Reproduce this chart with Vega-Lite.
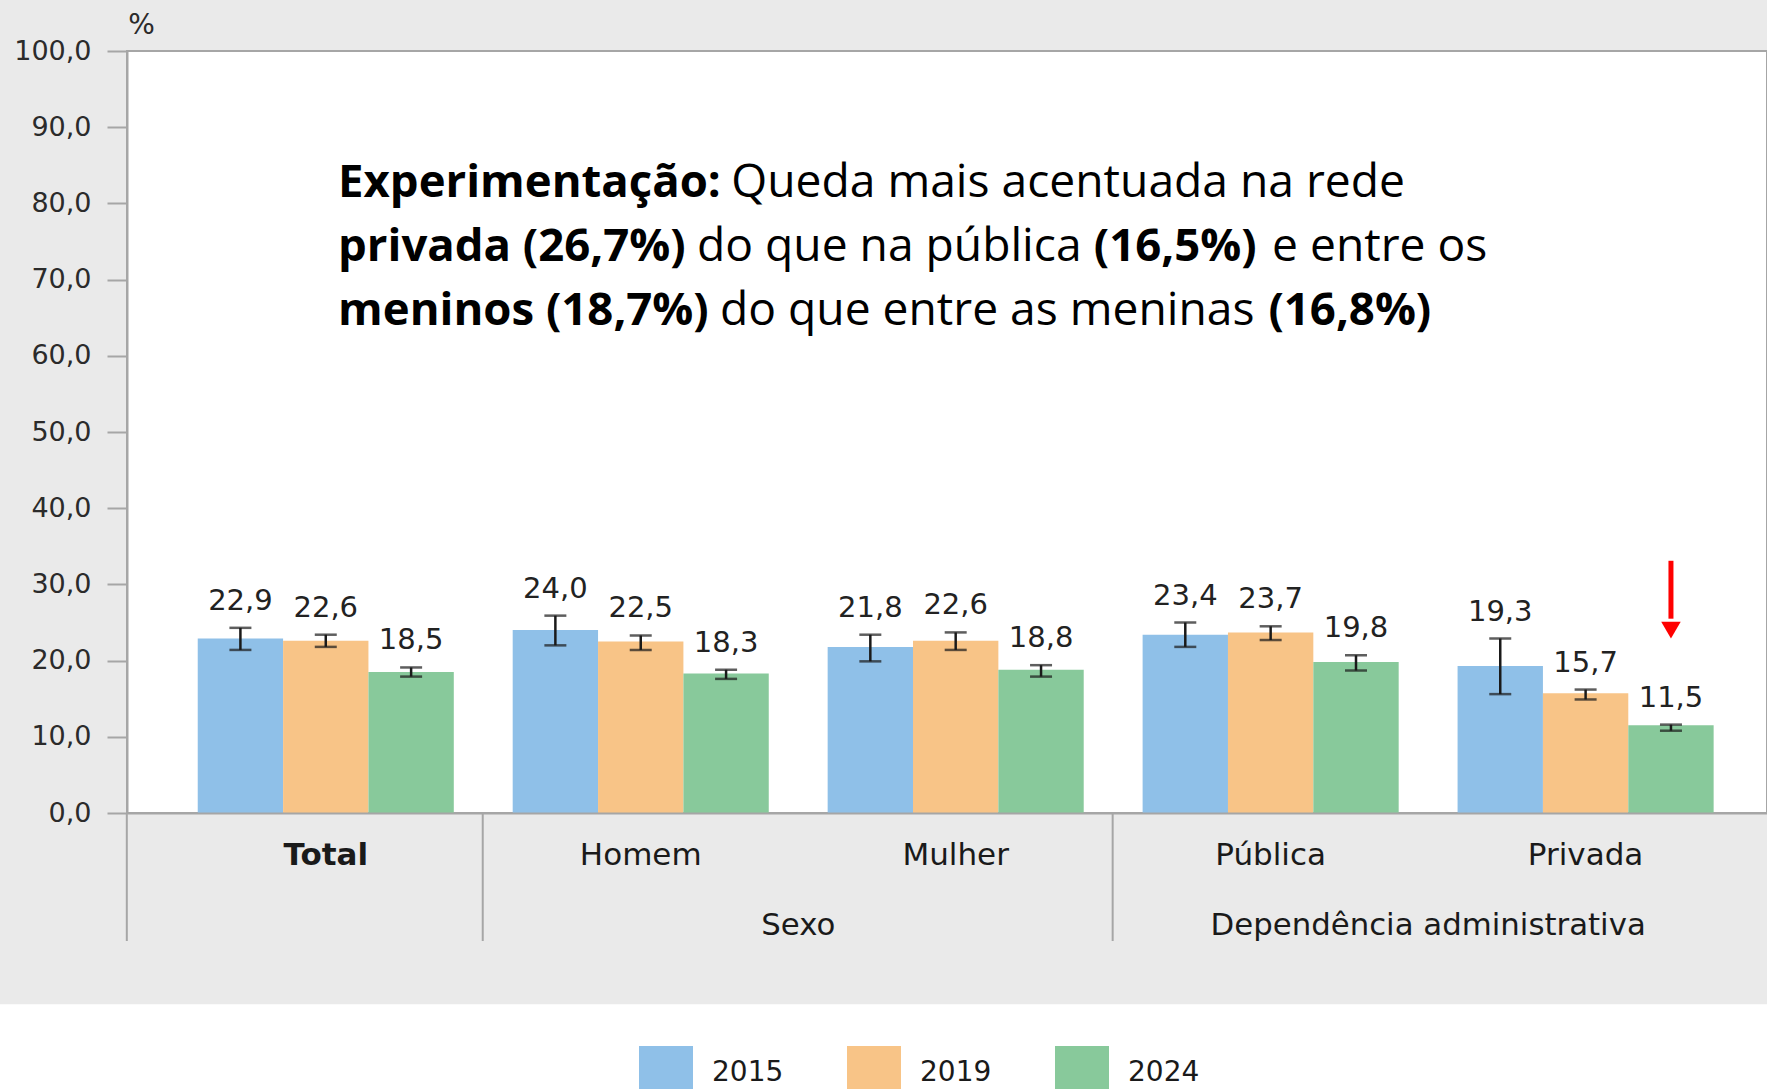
{
  "$schema": "https://vega.github.io/schema/vega-lite/v6.json",
  "width": 1640,
  "height": 762,
  "autosize": {"type": "none"},
  "padding": {"left": 127, "top": 51, "right": 0, "bottom": 276},
  "datasets": {
    "barras": [
      {"categoria": "Total", "ano": "2015", "valor": 22.9, "li": 21.4, "ls": 24.3},
      {"categoria": "Total", "ano": "2019", "valor": 22.6, "li": 21.8, "ls": 23.4},
      {"categoria": "Total", "ano": "2024", "valor": 18.5, "li": 17.9, "ls": 19.1},
      {"categoria": "Homem", "ano": "2015", "valor": 24.0, "li": 22.0, "ls": 25.9},
      {"categoria": "Homem", "ano": "2019", "valor": 22.5, "li": 21.4, "ls": 23.3},
      {"categoria": "Homem", "ano": "2024", "valor": 18.3, "li": 17.6, "ls": 18.8},
      {"categoria": "Mulher", "ano": "2015", "valor": 21.8, "li": 19.9, "ls": 23.4},
      {"categoria": "Mulher", "ano": "2019", "valor": 22.6, "li": 21.4, "ls": 23.7},
      {"categoria": "Mulher", "ano": "2024", "valor": 18.8, "li": 17.9, "ls": 19.4},
      {"categoria": "Pública", "ano": "2015", "valor": 23.4, "li": 21.8, "ls": 25.0},
      {"categoria": "Pública", "ano": "2019", "valor": 23.7, "li": 22.7, "ls": 24.5},
      {"categoria": "Pública", "ano": "2024", "valor": 19.8, "li": 18.7, "ls": 20.7},
      {"categoria": "Privada", "ano": "2015", "valor": 19.3, "li": 15.6, "ls": 22.9},
      {"categoria": "Privada", "ano": "2019", "valor": 15.7, "li": 14.9, "ls": 16.2},
      {"categoria": "Privada", "ano": "2024", "valor": 11.5, "li": 10.8, "ls": 11.6}
    ],
    "grupos": [
      {"grupo": "Sexo", "ancora": "Homem"},
      {"grupo": "Dependência administrativa", "ancora": "Pública"}
    ],
    "separadores": [
      {"ancora": "Homem"},
      {"ancora": "Pública"}
    ],
    "destaque": [
      {"categoria": "Privada", "ano": "2024"}
    ],
    "anotacao": [
      {"linha": 1, "trecho": "Experimentação:", "negrito": "sim", "inicio": 12.87, "nivel": 80.9},
      {"linha": 1, "trecho": "Queda mais acentuada na rede", "negrito": "nao", "inicio": 36.85, "nivel": 80.9},
      {"linha": 2, "trecho": "privada (26,7%)", "negrito": "sim", "inicio": 12.87, "nivel": 72.4},
      {"linha": 2, "trecho": "do que na pública", "negrito": "nao", "inicio": 34.76, "nivel": 72.4},
      {"linha": 2, "trecho": "(16,5%)", "negrito": "sim", "inicio": 58.95, "nivel": 72.4},
      {"linha": 2, "trecho": "e entre os", "negrito": "nao", "inicio": 69.82, "nivel": 72.4},
      {"linha": 3, "trecho": "meninos (18,7%)", "negrito": "sim", "inicio": 12.87, "nivel": 64.1},
      {"linha": 3, "trecho": "do que entre as meninas", "negrito": "nao", "inicio": 36.16, "nivel": 64.1},
      {"linha": 3, "trecho": "(16,8%)", "negrito": "sim", "inicio": 69.6, "nivel": 64.1}
    ]
  },
  "layer": [
    {
      "layer": [
        {
          "data": {"values": [{"faixa": "legenda"}]},
          "mark": {"type": "rect", "color": "white"},
          "encoding": {
            "x": {"datum": "Total", "type": "nominal", "bandPosition": -1, "scale": {"domain": ["Total", "Homem", "Mulher", "Pública", "Privada"], "paddingInner": 0.187, "paddingOuter": 0.197, "align": 0.57}},
            "x2": {"datum": "Privada", "bandPosition": 2},
            "y": {"datum": -25.1, "type": "quantitative", "scale": {"domain": [0, 100], "nice": false}},
            "y2": {"datum": -45}
          }
        },
        {
          "data": {"name": "barras"},
          "mark": {"type": "bar"},
          "encoding": {
            "x": {
              "field": "categoria", "type": "nominal",
              "scale": {"domain": ["Total", "Homem", "Mulher", "Pública", "Privada"], "paddingInner": 0.187, "paddingOuter": 0.197, "align": 0.57},
              "axis": {
                "title": null, "ticks": false, "bandPosition": 0.5, "labelAngle": 0, "labelAlign": "center", "labelPadding": 42, "labelBaseline": "middle",
                "labelFontSize": 31, "labelColor": "#1a1a1a",
                "labelFontWeight": {"condition": {"test": "datum.value === 'Total'", "value": "bold"}, "value": "normal"},
                "domainColor": "#a6a6a6", "domainWidth": 2, "grid": false
              }
            },
            "xOffset": {"field": "ano", "type": "nominal", "scale": {"domain": ["2015", "2019", "2024"]}},
            "y": {
              "field": "valor", "type": "quantitative",
              "scale": {"domain": [0, 100], "nice": false},
              "axis": {
                "values": [0, 10, 20, 30, 40, 50, 60, 70, 80, 90, 100], "format": ".1f",
                "grid": false, "labelFontSize": 27, "labelColor": "#2b2b2b", "labelPadding": 16,
                "tickSize": 20, "tickColor": "#a6a6a6", "tickWidth": 2,
                "domainColor": "#a6a6a6", "domainWidth": 2,
                "title": "%", "titleAngle": 0, "titleX": 14, "titleY": -26, "titleAlign": "center", "titleBaseline": "middle",
                "titleFontSize": 28, "titleFontWeight": "normal", "titleColor": "#2b2b2b"
              }
            },
            "color": {
              "field": "ano", "type": "nominal",
              "scale": {"domain": ["2015", "2019", "2024"], "range": ["#8fc0e8", "#f8c487", "#88c99b"]},
              "legend": {
                "orient": "none", "legendX": 512, "legendY": 995, "direction": "horizontal", "title": null,
                "symbolType": "square", "symbolSize": 2916, "symbolStrokeWidth": 0, "symbolOpacity": 1,
                "labelFontSize": 28, "labelOffset": 19, "columnPadding": 63, "padding": 0, "labelColor": "#1a1a1a"
              }
            }
          }
        },
        {
          "data": {"name": "barras"},
          "mark": {"type": "rule", "color": "#1a1a1a", "strokeWidth": 2.5},
          "encoding": {
            "x": {"field": "categoria", "type": "nominal"},
            "xOffset": {"field": "ano", "type": "nominal"},
            "y": {"field": "li", "type": "quantitative", "scale": {"domain": [0, 100], "nice": false}},
            "y2": {"field": "ls"}
          }
        },
        {
          "data": {"name": "barras"},
          "mark": {"type": "tick", "color": "#1a1a1a", "size": 22, "thickness": 2.5, "orient": "horizontal"},
          "encoding": {
            "x": {"field": "categoria", "type": "nominal"},
            "xOffset": {"field": "ano", "type": "nominal"},
            "y": {"field": "li", "type": "quantitative", "scale": {"domain": [0, 100], "nice": false}}
          }
        },
        {
          "data": {"name": "barras"},
          "mark": {"type": "tick", "color": "#1a1a1a", "size": 22, "thickness": 2.5, "orient": "horizontal"},
          "encoding": {
            "x": {"field": "categoria", "type": "nominal"},
            "xOffset": {"field": "ano", "type": "nominal"},
            "y": {"field": "ls", "type": "quantitative", "scale": {"domain": [0, 100], "nice": false}}
          }
        },
        {
          "data": {"name": "barras"},
          "mark": {"type": "text", "fontSize": 29, "color": "#222222", "baseline": "alphabetic", "dy": -18},
          "encoding": {
            "x": {"field": "categoria", "type": "nominal"},
            "xOffset": {"field": "ano", "type": "nominal"},
            "y": {"field": "ls", "type": "quantitative", "scale": {"domain": [0, 100], "nice": false}},
            "text": {"field": "valor", "type": "quantitative", "format": ".1f"}
          }
        },
        {
          "data": {"values": [{"limite": "esquerdo"}]},
          "mark": {"type": "rule", "color": "#a6a6a6", "strokeWidth": 2},
          "encoding": {
            "x": {"datum": "Total", "type": "nominal", "bandPosition": -0.277},
            "y": {"datum": 0, "type": "quantitative", "scale": {"domain": [0, 100], "nice": false}},
            "y2": {"datum": -16.8}
          }
        },
        {
          "data": {"name": "separadores"},
          "mark": {"type": "rule", "color": "#a6a6a6", "strokeWidth": 2},
          "encoding": {
            "x": {"field": "ancora", "type": "nominal", "bandPosition": -0.117},
            "y": {"datum": 0, "type": "quantitative", "scale": {"domain": [0, 100], "nice": false}},
            "y2": {"datum": -16.8}
          }
        },
        {
          "data": {"name": "grupos"},
          "mark": {"type": "text", "fontSize": 30.8, "color": "#1a1a1a", "baseline": "middle", "align": "center"},
          "encoding": {
            "x": {"field": "ancora", "type": "nominal", "bandPosition": 1.115},
            "y": {"datum": -14.8, "type": "quantitative", "scale": {"domain": [0, 100], "nice": false}},
            "text": {"field": "grupo"}
          }
        },
        {
          "data": {"name": "destaque"},
          "mark": {"type": "rule", "color": "#ff0000", "strokeWidth": 5},
          "encoding": {
            "x": {"field": "categoria", "type": "nominal", "bandPosition": 0.47},
            "xOffset": {"field": "ano", "type": "nominal"},
            "y": {"datum": 33.1, "type": "quantitative", "scale": {"domain": [0, 100], "nice": false}},
            "y2": {"datum": 25.5}
          }
        },
        {
          "data": {"name": "destaque"},
          "mark": {"type": "point", "shape": "triangle-down", "filled": true, "color": "#ff0000", "size": 380, "opacity": 1},
          "encoding": {
            "x": {"field": "categoria", "type": "nominal", "bandPosition": 0.47},
            "xOffset": {"field": "ano", "type": "nominal"},
            "y": {"datum": 24.0, "type": "quantitative", "scale": {"domain": [0, 100], "nice": false}}
          }
        }
      ]
    },
    {
      "data": {"name": "anotacao"},
      "layer": [
        {
          "transform": [{"filter": "datum.negrito === 'sim'"}],
          "mark": {"type": "text", "font": "Open Sans", "fontSize": 45.5, "fontWeight": "bold", "color": "#000000", "align": "left", "baseline": "alphabetic"},
          "encoding": {
            "x": {"field": "inicio", "type": "quantitative", "scale": {"domain": [0, 100], "nice": false}, "axis": null},
            "y": {"field": "nivel", "type": "quantitative", "scale": {"domain": [0, 100], "nice": false}},
            "text": {"field": "trecho"}
          }
        },
        {
          "transform": [{"filter": "datum.negrito === 'nao'"}],
          "mark": {"type": "text", "font": "Open Sans", "fontSize": 46.2, "fontWeight": "normal", "color": "#000000", "align": "left", "baseline": "alphabetic"},
          "encoding": {
            "x": {"field": "inicio", "type": "quantitative", "scale": {"domain": [0, 100], "nice": false}, "axis": null},
            "y": {"field": "nivel", "type": "quantitative", "scale": {"domain": [0, 100], "nice": false}},
            "text": {"field": "trecho"}
          }
        }
      ]
    }
  ],
  "resolve": {"scale": {"x": "independent"}},
  "config": {
    "background": "#eaeaea",
    "font": "DejaVu Sans",
    "view": {"fill": "white", "stroke": "#a6a6a6", "strokeWidth": 2},
    "locale": {"number": {"decimal": ",", "thousands": ".", "grouping": [3], "currency": ["R$", ""]}}
  }
}
